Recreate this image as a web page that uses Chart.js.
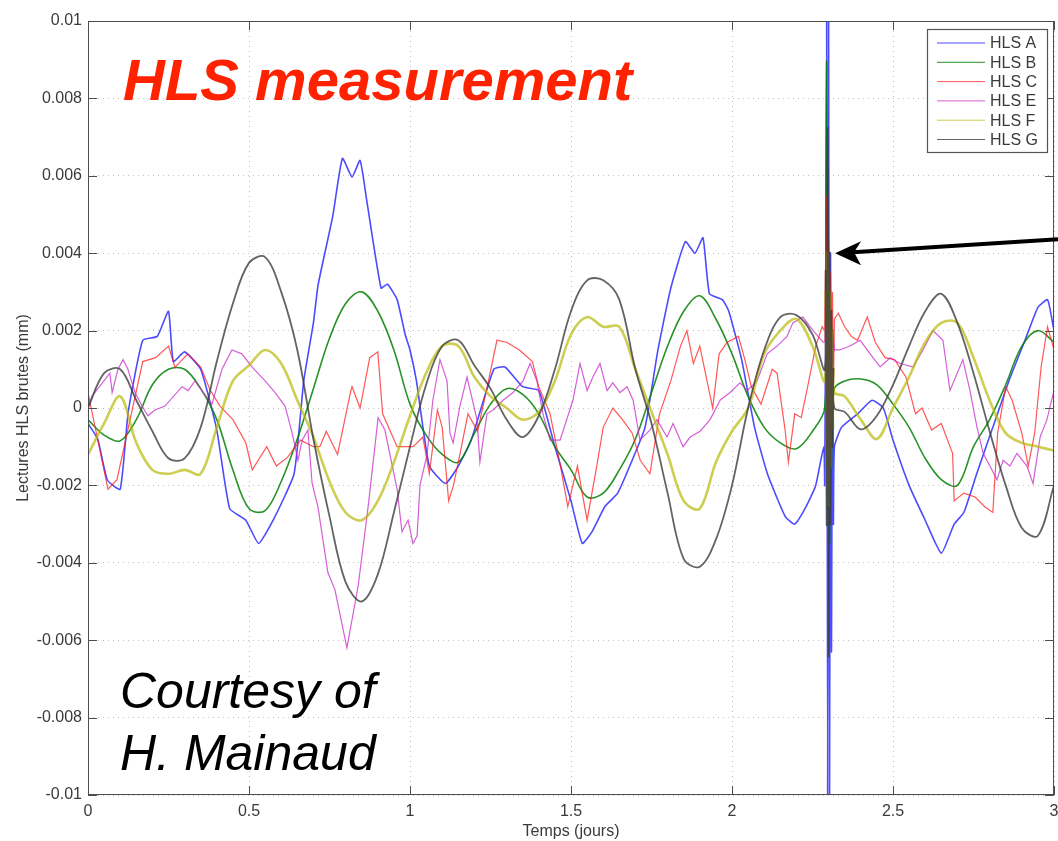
<!DOCTYPE html>
<html>
<head>
<meta charset="utf-8">
<title>HLS measurement</title>
<script src="https://cdn.jsdelivr.net/npm/chart.js@4.4.0/dist/chart.umd.min.js"></script>
<style>
body { margin: 0; background: #fff; }
#wrap { position: relative; width: 1058px; height: 841px; }
</style>
</head>
<body>
<div id="wrap"><canvas id="hls_chart" width="1058" height="841"></canvas></div>
<script>
// DATA - readings in 1e-3 mm, times in days
const seriesNames = ['HLS A', 'HLS B', 'HLS C', 'HLS E', 'HLS F', 'HLS G'];
const seriesColors = ['rgba(30,30,255,0.8)', 'rgba(0,128,0,0.85)', 'rgba(255,30,30,0.75)', 'rgba(200,40,200,0.75)', 'rgba(185,185,10,0.7)', 'rgba(60,60,60,0.8)'];

// regular 0.05 day grid used by the smooth series (B, F, G)
const gridDays = [0, 0.05, 0.1, 0.15, 0.2, 0.25, 0.3, 0.35, 0.4, 0.45,
	0.5, 0.55, 0.6, 0.65, 0.7, 0.75, 0.8, 0.85, 0.9, 0.95,
	1.0, 1.05, 1.1, 1.15, 1.2, 1.25, 1.3, 1.35, 1.4, 1.45,
	1.5, 1.55, 1.6, 1.65, 1.7, 1.75, 1.8, 1.85, 1.9, 1.95,
	2.0, 2.05, 2.1, 2.15, 2.2, 2.25, 2.3, 2.35, 2.4, 2.45,
	2.5, 2.55, 2.6, 2.65, 2.7, 2.75, 2.8, 2.85, 2.9, 2.95, 3.0];

const hlsB = [-0.3, -0.7, -0.85, -0.3, 0.6, 1.0, 1.0, 0.5, -0.3, -1.6,
	-2.6, -2.65, -1.9, -0.8, 0.5, 1.8, 2.7, 3.0, 2.5, 1.5,
	0.1, -0.7, -1.2, -1.4, -0.65, 0.1, 0.5, 0.35, -0.15, -1.0,
	-1.6, -2.3, -2.2, -1.6, -0.8, 0.4, 1.6, 2.5, 2.9, 2.3,
	1.4, 0.3, -0.5, -0.9, -1.05, -0.6, 0.0, 0.7, 0.75, 0.6,
	0.1, -0.5, -1.3, -1.85, -2.0, -1.0, -0.3, 0.6, 1.6, 2.0, 1.7];

const hlsF = [-1.2, -0.4, 0.3, -0.9, -1.6, -1.7, -1.6, -1.7, -0.5, 0.7,
	1.1, 1.5, 1.15, 0.2, -0.75, -1.9, -2.7, -2.9, -2.4, -1.4,
	-0.2, 0.9, 1.6, 1.6, 0.8, 0.3, 0.0, -0.3, -0.1, 0.7,
	1.9, 2.35, 2.1, 2.1, 1.0, -0.1, -1.2, -2.4, -2.6, -1.4,
	-0.6, 0.0, 1.4, 2.0, 2.3, 1.6, 0.5, 0.3, -0.3, -0.8,
	0.0, 0.8, 1.7, 2.2, 2.2, 1.3, 0.2, -0.65, -0.9, -1.0, -1.1];

const hlsG = [0.0, 0.9, 1.0, 0.2, -0.6, -1.3, -1.3, -0.5, 1.2, 2.7,
	3.75, 3.9, 3.0, 1.5, -0.8, -2.8, -4.5, -5.0, -4.3, -2.7,
	-1.0, 0.6, 1.6, 1.75, 1.1, 0.5, -0.3, -0.75, -0.2, 1.0,
	2.5, 3.3, 3.3, 2.8, 1.0, -0.4, -2.2, -3.9, -4.1, -3.4,
	-2.0, 0.0, 1.5, 2.35, 2.4, 1.9, 0.8, -0.1, -0.55, -0.2,
	0.6, 1.6, 2.5, 2.95, 2.2, 0.9, -0.6, -2.0, -3.1, -3.3, -2.0];

// the jagged series keep their own vertices
const aDays = [0, 0.03, 0.06, 0.1, 0.125, 0.17, 0.215, 0.25, 0.265, 0.3,
	0.35, 0.4, 0.44, 0.49, 0.53, 0.575, 0.64, 0.67, 0.7, 0.715,
	0.76, 0.79, 0.82, 0.845, 0.865, 0.91, 0.93, 0.96, 0.985, 1.0,
	1.02, 1.06, 1.11, 1.15, 1.19, 1.26, 1.295, 1.35, 1.4, 1.45,
	1.5, 1.535, 1.565, 1.605, 1.645, 1.69, 1.73, 1.77, 1.81, 1.855,
	1.885, 1.91, 1.93, 1.97, 1.99, 2.03, 2.07, 2.11, 2.165, 2.195,
	2.23, 2.26, 2.285, 2.34, 2.39, 2.435, 2.47, 2.5, 2.55, 2.6,
	2.65, 2.69, 2.72, 2.76, 2.81, 2.86, 2.91, 2.95, 2.98, 3.0];
const hlsA = [-0.4, -0.8, -1.86, -2.1, -0.1, 1.75, 1.85, 2.5, 1.2, 1.45,
	1.0, -0.57, -2.6, -2.9, -3.5, -2.9, -1.7, 0.7, 2.2, 3.2,
	4.95, 6.45, 5.97, 6.4, 5.4, 3.1, 3.2, 2.8, 1.9, 1.5,
	0.7, -1.5, -1.95, -1.5, -0.83, 1.0, 1.06, 0.55, 0.45, -1.0,
	-2.4, -3.5, -3.2, -2.55, -2.2, -1.35, -0.5, 1.5, 3.1, 4.3,
	4.0, 4.4, 2.95, 2.8, 2.5, 1.25, -0.5, -1.7, -2.8, -3.0,
	-2.55, -2.0, -1.0, -0.5, -0.15, 0.2, 0.0, -0.83, -2.0, -2.9,
	-3.75, -3.0, -2.7, -1.7, -0.5, 0.7, 1.75, 2.6, 2.8, 2.0];

const cDays = [0, 0.062, 0.09, 0.17, 0.21, 0.25, 0.27, 0.31, 0.35, 0.38,
	0.41, 0.45, 0.49, 0.51, 0.555, 0.585, 0.62, 0.66, 0.70, 0.72,
	0.74, 0.775, 0.815, 0.82, 0.845, 0.875, 0.9, 0.915, 0.96, 1.01,
	1.04, 1.06, 1.085, 1.10, 1.12, 1.135, 1.155, 1.18, 1.21, 1.24,
	1.27, 1.30, 1.34, 1.38, 1.40, 1.435, 1.465, 1.49, 1.52, 1.55,
	1.58, 1.60, 1.63, 1.66, 1.69, 1.715, 1.745, 1.775, 1.81, 1.84,
	1.86, 1.88, 1.90, 1.94, 1.96, 1.985, 2.02, 2.04, 2.06, 2.09,
	2.125, 2.14, 2.165, 2.175, 2.195, 2.215, 2.235, 2.26, 2.28, 2.33,
	2.35, 2.37, 2.39, 2.42, 2.445, 2.475, 2.505, 2.54, 2.57, 2.59,
	2.62, 2.65, 2.685, 2.69, 2.72, 2.755, 2.785, 2.81, 2.825, 2.85,
	2.87, 2.90, 2.92, 2.94, 2.96, 2.98, 3.0];
const hlsC = [0.4, -2.1, -1.85, 1.2, 1.3, 1.6, 1.05, 1.4, 1.06, 0.45,
	0.05, -0.3, -0.9, -1.6, -1.0, -1.5, -1.27, -0.83, -1.0, -1.0,
	-0.6, -1.2, 0.4, 0.55, 0.0, 1.3, 1.45, -0.15, -1.0, -1.0,
	-0.75, -1.7, -0.05, -0.5, -2.4, -2.0, -1.2, -0.15, -0.6, 0.55,
	1.75, 1.7, 1.5, 1.2, 0.55, -0.15, -1.4, -2.55, -1.5, -2.9,
	-1.5, -0.5, 0.0, -0.3, -0.65, -1.35, -1.7, -0.15, 0.7, 1.6,
	2.0, 1.15, 1.6, 0.0, 1.4, 1.7, 1.85, 1.25, 0.55, 0.1,
	1.0, 0.9, -0.57, -1.4, -0.15, -0.25, 0.55, 1.6, 2.1, 2.45,
	2.1, 1.85, 1.75, 2.35, 1.7, 1.3, 1.25, 0.8, -0.15, 0.0,
	-0.57, -0.4, -1.17, -2.4, -2.2, -2.3, -2.55, -2.7, -0.65, 0.55,
	0.2, -0.65, -1.5, -0.65, 1.06, 2.1, 1.5];

const eDays = [0, 0.012, 0.068, 0.075, 0.093, 0.109, 0.124, 0.146, 0.168, 0.186,
	0.208, 0.239, 0.292, 0.311, 0.332, 0.354, 0.385, 0.416, 0.447, 0.478,
	0.509, 0.55, 0.581, 0.612, 0.634, 0.652, 0.665, 0.683, 0.696, 0.714,
	0.745, 0.767, 0.804, 0.839, 0.87, 0.901, 0.922, 0.96, 0.975, 0.994,
	1.009, 1.022, 1.031, 1.053, 1.071, 1.093, 1.115, 1.124, 1.134, 1.155,
	1.177, 1.208, 1.217, 1.239, 1.258, 1.289, 1.32, 1.351, 1.373, 1.394,
	1.413, 1.435, 1.466, 1.506, 1.528, 1.55, 1.568, 1.59, 1.612, 1.63,
	1.652, 1.674, 1.693, 1.714, 1.745, 1.767, 1.798, 1.817, 1.848, 1.87,
	1.901, 1.932, 1.963, 1.994, 2.025, 2.047, 2.078, 2.109, 2.14, 2.171,
	2.189, 2.22, 2.252, 2.283, 2.335, 2.366, 2.398, 2.429, 2.46, 2.491,
	2.522, 2.562, 2.593, 2.624, 2.655, 2.677, 2.717, 2.739, 2.761, 2.78,
	2.801, 2.823, 2.842, 2.863, 2.885, 2.916, 2.935, 2.957, 2.978, 3.0];
const hlsE = [0, 0.3, 0.9, 0.4, 1.0, 1.25, 1.0, 0.4, 0.05, -0.2,
	-0.05, 0.05, 0.55, 0.45, 0.7, 0.45, 0.1, 1.0, 1.5, 1.4,
	1.06, 0.7, 0.4, 0.05, -0.65, -1.35, -0.83, -0.57, -1.95, -2.55,
	-4.25, -4.7, -6.2, -4.6, -2.55, -0.25, -0.57, -2.1, -3.2, -2.9,
	-3.5, -3.3, -2.0, -1.2, 0.2, 1.25, 0.7, -0.65, -0.9, 0.05,
	0.8, -0.3, -1.4, -0.15, -0.05, 0.2, 0.4, 0.7, 1.15, 0.7,
	-0.15, -0.83, -0.83, 0.2, 1.15, 0.45, 0.8, 1.15, 0.45, 0.65,
	0.4, 0.55, 0.2, -0.83, -0.57, -0.3, -0.75, -0.4, -1.0, -0.75,
	-0.6, -0.3, 0.2, 0.4, 0.65, 0.45, 0.7, 1.4, 1.6, 1.85,
	2.2, 2.35, 2.0, 1.7, 1.5, 1.6, 1.75, 1.4, 1.06, 1.3,
	1.15, 1.06, 1.5, 2.0, 1.75, 0.45, 1.25, 0.45, -0.5, -1.17,
	-1.5, -1.85, -1.35, -1.5, -1.17, -1.5, -1.95, -0.75, -0.3, 0.45];

// the burst near 2.3 days (arrow)
const burstDays = [2.288, 2.291, 2.294, 2.297, 2.300, 2.303, 2.306, 2.309, 2.312, 2.315, 2.318];
const burstA = [-2.0, 3.0, 10, -10, 10, -10, 4.0, -6.3, 2.0, -3.0, -1.0];
const burstB = [0.0, 3.0, 8.9, -2.5, 4.0, -3.5, 3.0, -1.5, 2.0, -0.5, 0.5];
const burstC = [2.0, 4.0, 5.5, -2.0, 4.3, -1.5, 3.5, 0.0, 3.0, 0.5, 2.3];
const burstE = [1.7, 3.0, -1.0, 3.5, -2.0, 2.5, -1.0, 2.0, 0.0, 1.8, 1.5];
const burstF = [0.7, 3.0, -1.5, 4.0, -2.5, 3.0, -1.5, 2.0, -0.5, 1.0, 0.4];
const burstG = [1.0, 3.5, -3.0, 7.2, -6.4, 4.0, -3.0, 2.5, -1.0, 1.0, 0.0];

// AXES
const xTickValues = [0, 0.5, 1, 1.5, 2, 2.5, 3];
const xTickLabels = ['0', '0.5', '1', '1.5', '2', '2.5', '3'];
const yTickValues = [-10, -8, -6, -4, -2, 0, 2, 4, 6, 8, 10];
const yTickLabels = ['-0.01', '-0.008', '-0.006', '-0.004', '-0.002', '0', '0.002', '0.004', '0.006', '0.008', '0.01'];

const FONT = '"Liberation Sans", Arial, Helvetica, sans-serif';

// BUILD POINTS
function toPoints(days, vals, bVals){
	let pts = days.map((d, i) => ({x: d, y: vals[i]}));
	burstDays.forEach((d, i) => pts.push({x: d, y: bVals[i]}));
	return pts.sort((a, b) => a.x - b.x);
}

const seriesData = [
	toPoints(aDays, hlsA, burstA),
	toPoints(gridDays, hlsB, burstB),
	toPoints(cDays, hlsC, burstC),
	toPoints(eDays, hlsE, burstE),
	toPoints(gridDays, hlsF, burstF),
	toPoints(gridDays, hlsG, burstG)
];
const lineWidths = [1.6, 1.6, 1.2, 1.2, 2.6, 1.8];
const tensions = [0.15, 0.35, 0, 0, 0.35, 0.35];

// FRAME, INWARD TICKS, LEGEND, NOTES
const decorPlugin = {
	id: 'decor',
	afterDraw(chart){
		const {ctx, chartArea: {left, right, top, bottom}, scales: {x, y}} = chart;
		ctx.save();

		// box + ticks (matlab style)
		ctx.strokeStyle = '#4d4d4d';
		ctx.lineWidth = 1;
		ctx.strokeRect(left + 0.5, top + 0.5, right - left - 1, bottom - top - 1);
		ctx.beginPath();
		x.ticks.forEach(t => {
			let px = Math.round(x.getPixelForValue(t.value)) + 0.5;
			ctx.moveTo(px, bottom); ctx.lineTo(px, bottom - 9);
			ctx.moveTo(px, top); ctx.lineTo(px, top + 9);
		});
		y.ticks.forEach(t => {
			let py = Math.round(y.getPixelForValue(t.value)) + 0.5;
			ctx.moveTo(left, py); ctx.lineTo(left + 9, py);
			ctx.moveTo(right, py); ctx.lineTo(right - 9, py);
		});
		ctx.stroke();

		// legend box
		const bx = right - 127, by = top + 8, bw = 120, bh = 123;
		ctx.fillStyle = '#fff';
		ctx.fillRect(bx, by, bw, bh);
		ctx.strokeStyle = '#555';
		ctx.lineWidth = 1.2;
		ctx.strokeRect(bx + 0.5, by + 0.5, bw, bh);
		ctx.font = '16px ' + FONT;
		ctx.textBaseline = 'middle';
		ctx.textAlign = 'left';
		chart.data.datasets.forEach((ds, i) => {
			let ly = by + 14 + i * 19.3;
			ctx.strokeStyle = ds.borderColor;
			ctx.lineWidth = 1;
			ctx.beginPath();
			ctx.moveTo(bx + 10, ly); ctx.lineTo(bx + 58, ly);
			ctx.stroke();
			ctx.fillStyle = '#3a3a3a';
			ctx.fillText(ds.label, bx + 63, ly + 1);
		});

		// slide notes
		ctx.textBaseline = 'alphabetic';
		ctx.fillStyle = '#ff2200';
		ctx.font = 'italic bold 58px ' + FONT;
		ctx.fillText('HLS measurement', left + 35, top + 79);
		ctx.fillStyle = '#000';
		ctx.font = 'italic 50px ' + FONT;
		ctx.fillText('Courtesy of', left + 32, bottom - 87);
		ctx.fillText('H. Mainaud', left + 32, bottom - 25);

		// arrow pointing to the burst
		const tipX = x.getPixelForValue(2.32), tipY = y.getPixelForValue(4.0);
		ctx.strokeStyle = '#000';
		ctx.lineWidth = 4;
		ctx.beginPath();
		ctx.moveTo(tipX + 18, tipY - 1);
		ctx.lineTo(chart.width, tipY - 14);
		ctx.stroke();
		ctx.fillStyle = '#000';
		ctx.beginPath();
		ctx.moveTo(tipX, tipY);
		ctx.lineTo(tipX + 26, tipY - 12);
		ctx.lineTo(tipX + 19, tipY - 1);
		ctx.lineTo(tipX + 26, tipY + 12);
		ctx.closePath();
		ctx.fill();

		ctx.restore();
	}
};

const ctx = document.getElementById('hls_chart').getContext('2d');

let hls_chart = new Chart(ctx, {
	type: 'line',
	data: {
		datasets: seriesNames.map((name, i) => ({
			label: name,
			data: seriesData[i],
			borderColor: seriesColors[i],
			backgroundColor: seriesColors[i],
			borderWidth: lineWidths[i],
			fill: false,
			pointRadius: 0,
			tension: tensions[i],
			order: seriesNames.length - i
		}))
	},
	options: {
		responsive: false,
		animation: false,
		devicePixelRatio: 1,
		layout: { padding: { left: 0, right: 4, top: 21, bottom: 0 } },
		plugins: {
			legend: { display: false },
			tooltip: { enabled: false }
		},
		scales: {
			x: {
				type: 'linear',
				min: 0,
				max: 3,
				afterBuildTicks(scale){ scale.ticks = xTickValues.map(v => ({ value: v })); },
				ticks: {
					padding: 7,
					color: '#3a3a3a',
					maxRotation: 0,
					font: { family: FONT, size: 16 },
					callback: v => xTickLabels[xTickValues.indexOf(v)]
				},
				grid: { color: '#c2c2c2', drawTicks: false, lineWidth: 1 },
				border: { display: false, dash: [1, 4] },
				title: { display: true, text: 'Temps (jours)', color: '#3a3a3a', font: { family: FONT, size: 16 }, padding: { top: 2, bottom: 0 } },
				afterFit(scale){ scale.height = 46; scale.paddingLeft = 0; scale.paddingRight = 0; }
			},
			y: {
				type: 'linear',
				min: -10,
				max: 10,
				afterBuildTicks(scale){ scale.ticks = yTickValues.map(v => ({ value: v })); },
				ticks: {
					padding: 6,
					color: '#3a3a3a',
					font: { family: FONT, size: 16 },
					callback: v => yTickLabels[yTickValues.indexOf(v)]
				},
				grid: { color: '#c2c2c2', drawTicks: false, lineWidth: 1 },
				border: { display: false, dash: [1, 4] },
				title: { display: true, text: 'Lectures HLS brutes (mm)', color: '#3a3a3a', font: { family: FONT, size: 16 }, padding: { top: 14, bottom: 0 } },
				afterFit(scale){ scale.width = 88; scale.paddingTop = 0; scale.paddingBottom = 0; }
			}
		}
	},
	plugins: [decorPlugin]
});
</script>
</body>
</html>
